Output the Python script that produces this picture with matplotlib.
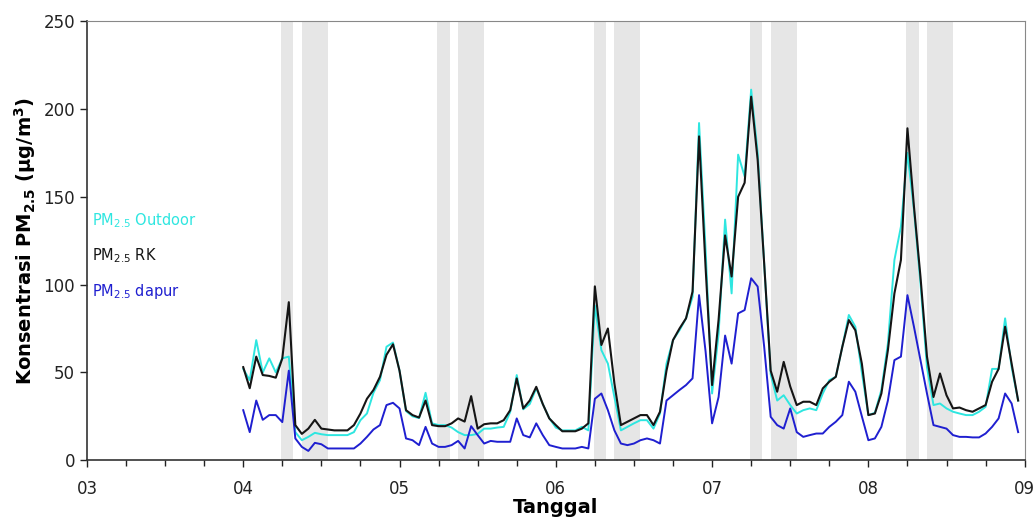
import matplotlib
matplotlib.use("Agg")
import matplotlib.pyplot as plt
import numpy as np

# hourly readings starting at day 04 00:00
rk = [53, 41, 59, 48.5, 48, 47, 58, 90, 20, 15, 18, 23, 18, 17.5, 17, 17, 17, 20, 26.6, 35, 40, 47.5, 60, 66,
      51, 28.5, 25.7, 24.3, 34, 20, 19.4, 19.4, 21, 23.8, 22, 36.5, 18, 20.5, 21, 21, 22.8, 28.5, 46.6, 29.5, 34, 41.8, 32, 23.8,
      20, 16.5, 16.5, 16.5, 18, 21, 99, 65.6, 75, 43.7, 20, 21.9, 23.8, 25.7, 25.7, 20, 27.6, 51, 68.4, 75, 80.8, 96, 184.4, 110,
      42.8, 80, 128, 104.6, 150, 158, 207, 171, 112, 51, 39, 56, 42, 31.4, 33.3, 33.3, 31.4, 40.9, 44.7, 47.5, 64.6, 79.8, 74, 55,
      25.7, 26.6, 38, 62.7, 95, 114, 189, 144.5, 104.6, 59, 36, 49.4, 37, 29.5, 30, 28.5, 27.6, 29.5, 31.4, 44.7, 52, 76, 55, 34]

outdoor = [52, 45.6, 68.4, 50, 58, 50, 58, 59, 16, 11.4, 13.3, 15.6, 14.8, 14.3, 14.3, 14.3, 14.3, 16, 22.8, 26.6, 38.4, 45.6, 64.6, 67,
           51, 28, 25, 24, 38.4, 21, 20, 20, 18.6, 16, 14.3, 14.3, 15, 18, 18, 18.6, 19, 27.5, 48.5, 29, 32, 41, 32, 24,
           18.6, 17, 17, 17, 19, 17, 88, 62.7, 55, 36, 17, 19, 21, 22.8, 22.8, 18, 26.6, 55, 68.4, 74, 80.8, 93, 192, 120,
           38, 72, 137, 95, 174, 161.6, 211, 175, 112, 49, 34, 37, 31.4, 26.6, 28.5, 29.5, 28.5, 38, 45.6, 47.5, 64.6, 82.7, 76, 50,
           25.7, 27, 40, 66.5, 114, 133, 175, 142.6, 100.8, 53, 31.4, 32.3, 29.5, 27.6, 26.6, 25.7, 25.7, 27.6, 30.4, 52, 52, 80.8, 53, 34]

dapur = [28.5, 16, 34, 23, 25.7, 25.7, 21.7, 51, 12.4, 7.6, 5.3, 9.9, 9.1, 6.7, 6.7, 6.7, 6.7, 6.7, 9.5, 13.3, 17.5, 20, 31.4, 32.7,
         29.5, 12.4, 11.4, 8.6, 19, 9.5, 7.6, 7.6, 8.6, 11, 6.7, 19.4, 14.3, 9.5, 11, 10.5, 10.5, 10.5, 23.8, 14.3, 13, 21, 14.3, 8.6,
         7.6, 6.7, 6.7, 6.7, 7.6, 6.7, 35, 38, 28.5, 17, 9.5, 8.6, 9.5, 11.4, 12.4, 11.4, 9.5, 34, 37, 40, 42.8, 46.6, 94, 62,
         21, 36, 71, 55, 83.6, 85.5, 103.6, 98.9, 64.6, 24.7, 20, 18, 29.5, 16, 13.3, 14.3, 15.2, 15.2, 19, 21.9, 25.7, 44.7, 39, 25,
         11.4, 12.4, 19, 34, 57, 59, 94, 76, 57, 38, 20, 19, 18, 14.3, 13.3, 13.3, 13, 13, 15.2, 19, 23.8, 38, 32.3, 16]

start_day = 4
day_ticks = [3, 4, 5, 6, 7, 8, 9]
day_labels = ["03", "04", "05", "06", "07", "08", "09"]
shade_days = [4, 5, 6, 7, 8]
shade_hours = [(5.8, 7.7), (9.0, 13.0)]
y_ticks = [0, 50, 100, 150, 200, 250]

t = start_day + np.arange(len(rk)) / 24.0

fig = plt.figure(figsize=(10.35, 5.29), dpi=100)
ax = fig.add_axes([0.084, 0.130, 0.906, 0.830])

for d in shade_days:
    for h0, h1 in shade_hours:
        ax.axvspan(d + h0 / 24, d + h1 / 24, color="#e6e6e6", lw=0, zorder=0)

ax.plot(t, outdoor, color="#2ee6e0", lw=1.4, zorder=2)
ax.plot(t, dapur, color="#1f1fd0", lw=1.4, zorder=3)
ax.plot(t, rk, color="#151515", lw=1.5, zorder=4)

ax.set_xlim(3, 9)
ax.set_ylim(0, 250)
ax.set_xticks(day_ticks)
ax.set_xticklabels(day_labels)
ax.set_xticks(np.arange(3, 9.01, 0.25), minor=True)
ax.set_yticks(y_ticks)
ax.tick_params(axis="both", which="major", direction="out", length=5, width=1, labelsize=12, colors="#222222")
ax.tick_params(axis="x", which="major", pad=9)
ax.tick_params(axis="x", which="minor", direction="out", length=4, width=1, colors="#222222")
for s in ["left", "bottom"]:
    ax.spines[s].set_color("#333333")
    ax.spines[s].set_linewidth(1.2)
for s in ["top", "right"]:
    ax.spines[s].set_color("#888888")
    ax.spines[s].set_linewidth(0.8)

ax.set_xlabel("Tanggal", fontsize=14, fontweight="bold", labelpad=0)
ax.set_ylabel("Konsentrasi PM$_{\\mathbf{2.5}}$ (µg/m$^{\\mathbf{3}}$)", fontsize=14, fontweight="bold", labelpad=4)

ax.text(0.005, 0.545, "PM$_{2.5}$ Outdoor", transform=ax.transAxes, color="#2ee6e0", fontsize=10.5, va="center", ha="left")
ax.text(0.005, 0.465, "PM$_{2.5}$ RK", transform=ax.transAxes, color="#151515", fontsize=10.5, va="center", ha="left")
ax.text(0.005, 0.385, "PM$_{2.5}$ dapur", transform=ax.transAxes, color="#1f1fd0", fontsize=10.5, va="center", ha="left")

fig.savefig("out.png", dpi=100)
